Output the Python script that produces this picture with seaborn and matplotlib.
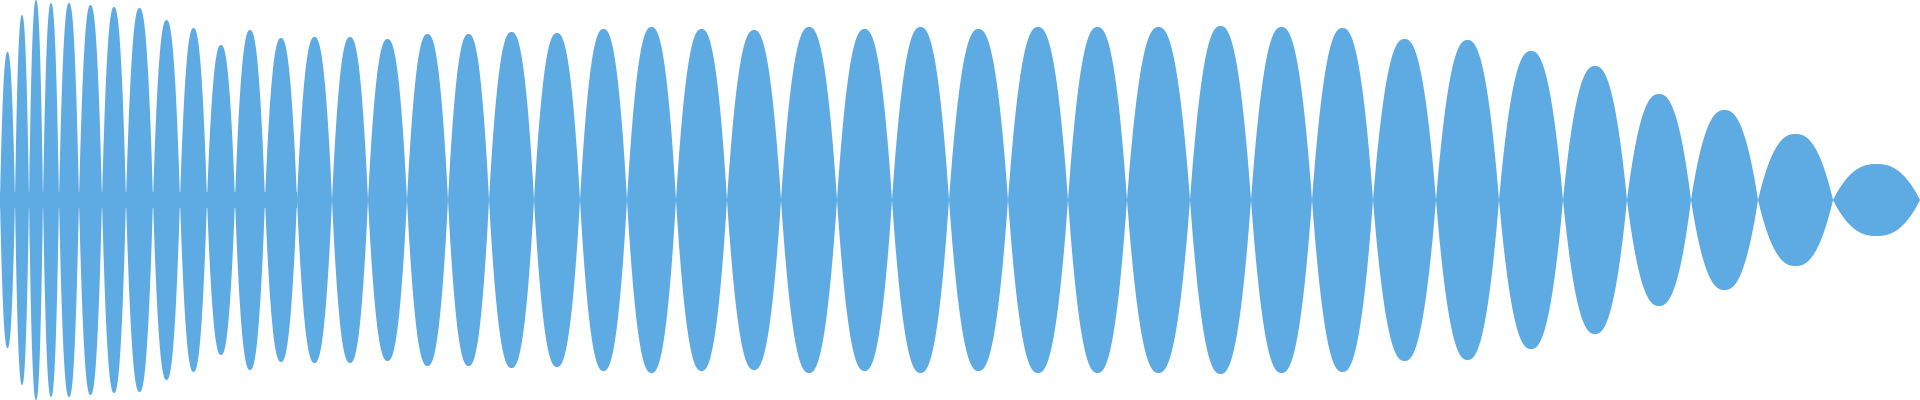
import numpy as np
import matplotlib
matplotlib.use("Agg")
import matplotlib.pyplot as plt
import seaborn as sns

sns.set_theme(style="white")

# zero crossings (time positions) of the waveform
crossings = [0, 15, 29, 43, 59, 79, 102, 126, 153, 180, 207, 235, 265, 297, 332, 368, 407,
             448, 489, 534, 580, 627, 676, 727, 781, 837, 892, 949, 1008, 1068, 1127,
             1190, 1251, 1312, 1373, 1436, 1499, 1563, 1627, 1691, 1758, 1833, 1920]
# peak amplitude of each lobe between consecutive crossings
peaks = [148, 185, 200, 197, 197, 195, 193, 192, 180, 172, 155, 170, 162, 163, 163, 161,
         166, 166, 168, 167, 171, 173, 171, 170, 173, 171, 173, 171, 173, 173, 173, 174,
         173, 172, 161, 160, 149, 134, 106, 90, 66, 36]
floor = 8

xs, ys = [], []
for i, a in enumerate(peaks):
    x0, x1 = crossings[i], crossings[i + 1]
    t = np.linspace(0, 1, 200)
    shape = 1 - np.abs(2 * t - 1) ** 2.4
    xs.append(x0 + (x1 - x0) * t)
    ys.append(np.maximum(a * shape, floor if x1 < 320 else 0))
x = np.concatenate(xs)
y = np.concatenate(ys)

fig = plt.figure(figsize=(19.2, 4), dpi=100)
ax = fig.add_axes([0, 0, 1, 1])
ax.fill_between(x, -y, y, color="#5DABE2", linewidth=0)
ax.set_xlim(0, 1920)
ax.set_ylim(-200, 200)
ax.axis("off")
fig.savefig("out.png", dpi=100)
